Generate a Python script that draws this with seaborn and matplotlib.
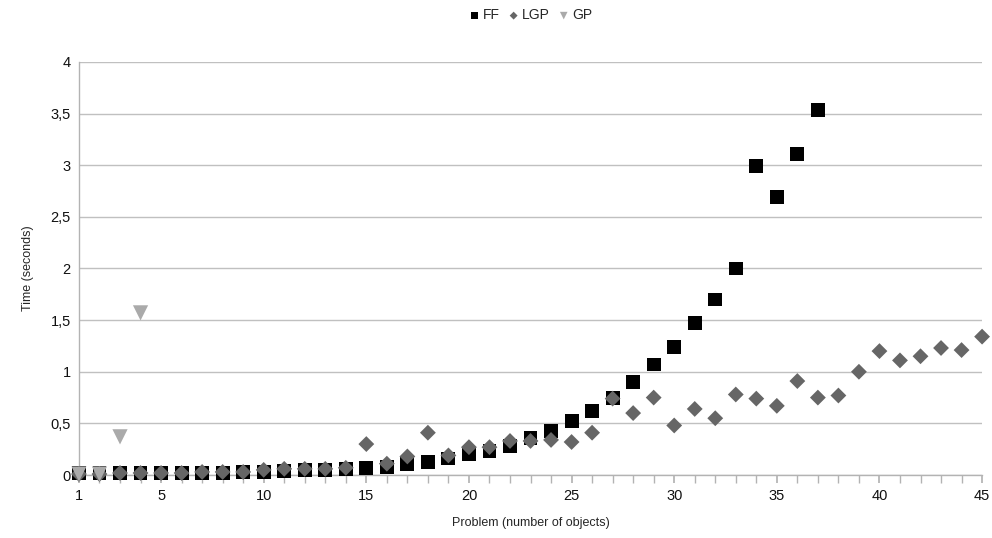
import matplotlib
matplotlib.use('Agg')
import matplotlib.pyplot as plt
from matplotlib.ticker import FuncFormatter, MultipleLocator, FixedLocator
import pandas as pd
import seaborn as sns

# number of objects per problem
ff_x = list(range(1, 38))
ff_t = [0.02, 0.02, 0.02, 0.02, 0.02, 0.02, 0.02, 0.02, 0.03, 0.03,
        0.04, 0.05, 0.05, 0.06, 0.07, 0.08, 0.11, 0.13, 0.16, 0.20,
        0.23, 0.28, 0.36, 0.43, 0.52, 0.62, 0.75, 0.90, 1.07, 1.24,
        1.47, 1.70, 2.00, 2.99, 2.69, 3.11, 3.53]

lgp_x = list(range(1, 46))
lgp_t = [0.01, 0.01, 0.02, 0.02, 0.02, 0.02, 0.03, 0.03, 0.03, 0.05,
         0.06, 0.06, 0.06, 0.07, 0.30, 0.11, 0.18, 0.41, 0.19, 0.27,
         0.27, 0.33, 0.33, 0.34, 0.32, 0.41, 0.74, 0.60, 0.75, 0.48,
         0.64, 0.55, 0.78, 0.74, 0.67, 0.91, 0.75, 0.77, 1.00, 1.20,
         1.11, 1.15, 1.23, 1.21, 1.34]

gp_x = [1, 2, 3, 4]
gp_t = [0.01, 0.01, 0.37, 1.57]

df = pd.concat([
    pd.DataFrame({'n': ff_x, 't': ff_t, 'planner': 'FF'}),
    pd.DataFrame({'n': lgp_x, 't': lgp_t, 'planner': 'LGP'}),
    pd.DataFrame({'n': gp_x, 't': gp_t, 'planner': 'GP'}),
], ignore_index=True)

sns.set_theme(style='white')
plt.rcParams['font.family'] = ['Liberation Sans', 'DejaVu Sans']

fig, ax = plt.subplots(figsize=(9.92, 5.38), dpi=100)
fig.subplots_adjust(left=0.0796, right=0.99, top=0.885, bottom=0.117)

palette = {'FF': '#000000', 'LGP': '#666666', 'GP': '#aaaaaa'}
markers = {'FF': 's', 'LGP': 'D', 'GP': 'v'}
sizes = {'FF': 100, 'LGP': 65, 'GP': 120}

for name in ['FF', 'LGP', 'GP']:
    sub = df[df['planner'] == name]
    sns.scatterplot(data=sub, x='n', y='t', color=palette[name], marker=markers[name],
                    s=sizes[name], edgecolor='none', ax=ax, label=name, clip_on=False, zorder=3)

ax.set_xlim(1, 45)
ax.set_ylim(0, 4)
ax.xaxis.set_major_locator(FixedLocator([1, 5, 10, 15, 20, 25, 30, 35, 40, 45]))
ax.xaxis.set_minor_locator(MultipleLocator(1))
ax.yaxis.set_major_locator(MultipleLocator(0.5))
ax.yaxis.set_major_formatter(FuncFormatter(lambda v, p: ('%g' % v).replace('.', ',')))

ax.grid(axis='y', color='#c0c0c0', linewidth=1)
ax.set_axisbelow(True)
for s in ['top', 'right']:
    ax.spines[s].set_visible(False)
for s in ['left', 'bottom']:
    ax.spines[s].set_color('#b3b3b3')
    ax.spines[s].set_linewidth(1)

ax.tick_params(axis='x', which='both', direction='out', length=6, color='#b3b3b3',
               bottom=True, labelsize=10.5, pad=4, labelcolor='#111111')
ax.tick_params(axis='y', length=0, labelsize=10.5, pad=6, labelcolor='#111111')

ax.set_xlabel('Problem (number of objects)', fontsize=9, labelpad=10)
ax.set_ylabel('Time (seconds)', fontsize=9, labelpad=12)

ax.legend(loc='upper center', bbox_to_anchor=(0.5, 1.16), ncol=3, frameon=False,
          fontsize=10, handlelength=0.8, handletextpad=0.2, columnspacing=0.6,
          markerscale=0.5)

fig.savefig('out.png', dpi=100)
